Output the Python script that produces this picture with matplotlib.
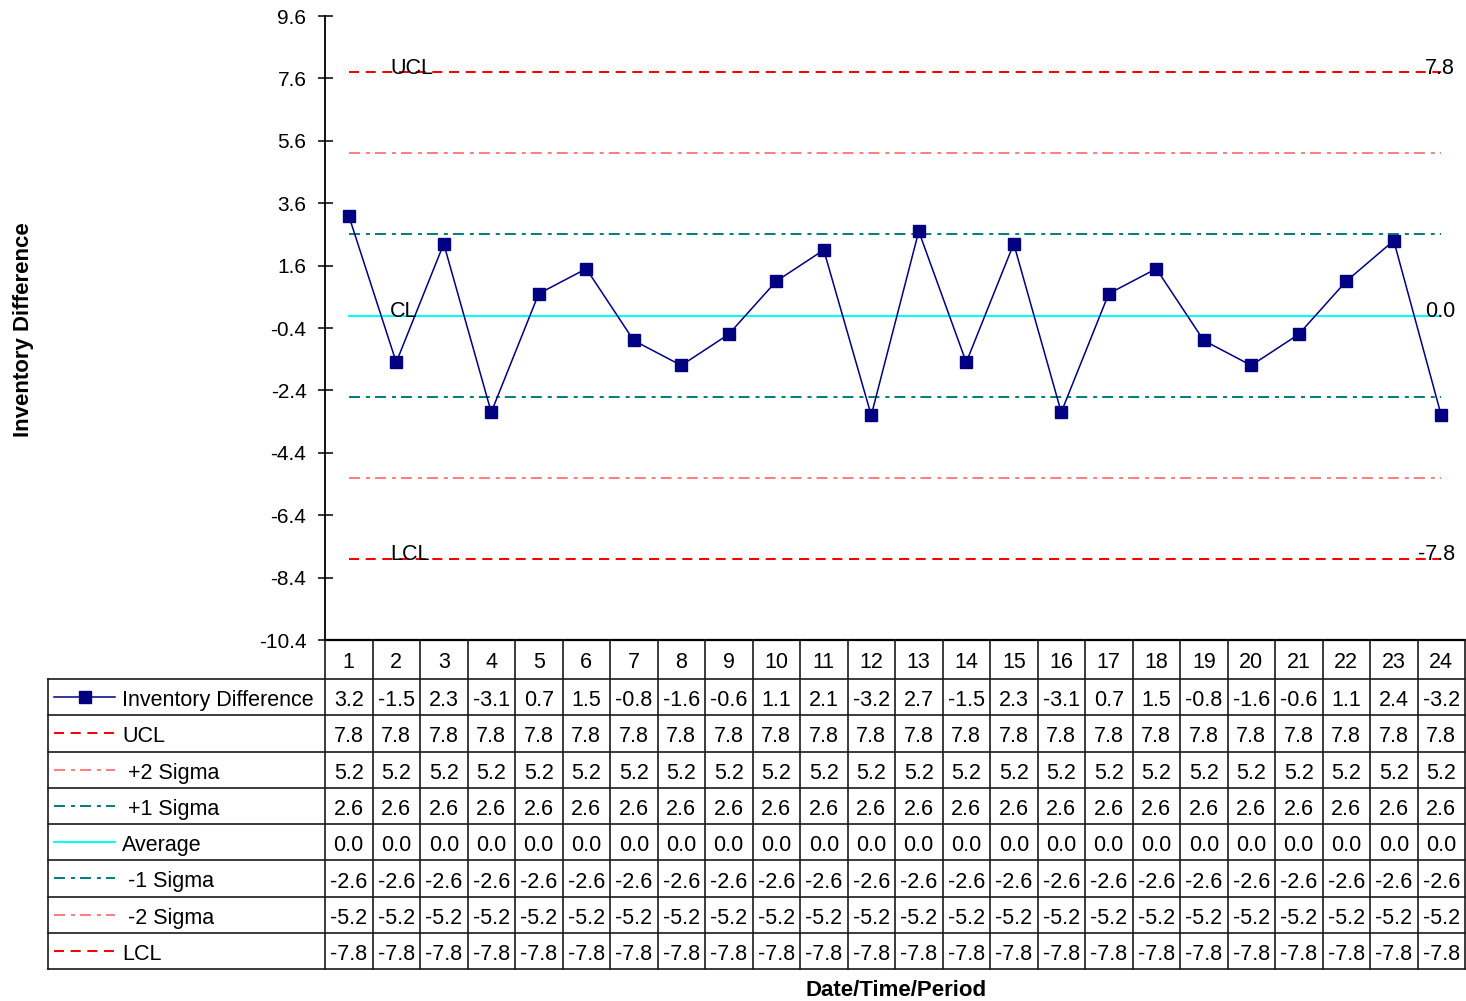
import matplotlib
matplotlib.use('Agg')
import matplotlib.pyplot as plt
import numpy as np

plt.rcParams['font.family'] = ['Liberation Sans', 'DejaVu Sans']
plt.rcParams['lines.scale_dashes'] = False

# ---------------- data ----------------
periods = list(range(1, 25))
inv_diff = [3.2, -1.5, 2.3, -3.1, 0.7, 1.5, -0.8, -1.6, -0.6, 1.1, 2.1, -3.2,
            2.7, -1.5, 2.3, -3.1, 0.7, 1.5, -0.8, -1.6, -0.6, 1.1, 2.4, -3.2]
ucl = 7.8
plus2 = 5.2
plus1 = 2.6
avg = 0.0
minus1 = -2.6
minus2 = -5.2
lcl = -7.8
y_ticks = [9.6, 7.6, 5.6, 3.6, 1.6, -0.4, -2.4, -4.4, -6.4, -8.4, -10.4]

row_names = ['Inventory Difference', 'UCL', ' +2 Sigma', ' +1 Sigma', 'Average',
             ' -1 Sigma', ' -2 Sigma', 'LCL']
row_values = [inv_diff, [ucl] * 24, [plus2] * 24, [plus1] * 24, [avg] * 24,
              [minus1] * 24, [minus2] * 24, [lcl] * 24]

# ---------------- styles ----------------
NAVY = '#000080'
RED = '#FF0000'
PINK = '#FF8080'
TEAL = '#008080'
CYAN = '#00FFFF'
dash = (0, (7.2, 4.8))
dashdot = (0, (7.9, 4.3, 2.9, 3.6))
row_styles = [
    dict(color=NAVY, ls='-', lw=1.1),
    dict(color=RED, ls=dash, lw=1.44),
    dict(color=PINK, ls=dashdot, lw=1.44),
    dict(color=TEAL, ls=dashdot, lw=1.44),
    dict(color=CYAN, ls='-', lw=1.44),
    dict(color=TEAL, ls=dashdot, lw=1.44),
    dict(color=PINK, ls=dashdot, lw=1.44),
    dict(color=RED, ls=dash, lw=1.44),
]

W, H = 1466, 1001


def px_rect(x0, y0, x1, y1):
    return [x0 / W, 1 - y1 / H, (x1 - x0) / W, (y1 - y0) / H]


fig = plt.figure(figsize=(W / 100, H / 100), dpi=100)

# ---------------- main chart ----------------
ax = fig.add_axes(px_rect(325, 16, 1465, 640))
ax.set_xlim(0.5, 24.5)
ax.set_ylim(-10.4, 9.6)

for vals, st in zip(row_values[1:], row_styles[1:]):
    ax.plot(periods, vals, **st)
ax.plot(periods, inv_diff, color=NAVY, lw=1.1, marker='s', markersize=8.5,
        markerfacecolor=NAVY, markeredgecolor=NAVY, zorder=5)

# control limit labels
for lbl, val in [('UCL', ucl), ('CL', avg), ('LCL', lcl)]:
    ax.text(1.87, val - 0.05, lbl, fontsize=15.5, ha='left', va='baseline')
    ax.text(24.29, val - 0.05, '%.1f' % val, fontsize=15.5, ha='right', va='baseline')

ax.set_yticks(y_ticks)
ax.set_yticklabels(['%.1f' % t for t in y_ticks], fontsize=15)
ax.tick_params(axis='y', direction='inout', length=10.8, width=1.1, pad=8)
ax.set_xticks([])
for s in ['top', 'right', 'bottom']:
    ax.spines[s].set_visible(False)
ax.spines['left'].set_linewidth(1.3)

# ---------------- data table ----------------
tab = fig.add_axes(px_rect(325, 640, 1465, 969))
h0 = 39 / 36.25
n_rows = len(row_names)
total = h0 + n_rows
tab.set_xlim(0.5, 24.5)
tab.set_ylim(total, 0)
tab.axis('off')
left = 0.5 - (325 - 48) / 47.5
grid_kw = dict(color='#1a1a1a', lw=1.2, clip_on=False)

tab.plot([0.5, 24.5], [0, 0], color='black', lw=1.6, clip_on=False)
for i in range(n_rows + 1):
    tab.plot([left, 24.5], [h0 + i, h0 + i], **grid_kw)
for k in range(25):
    tab.plot([0.5 + k, 0.5 + k], [0, total], **grid_kw)
tab.plot([left, left], [h0, total], **grid_kw)

for p in periods:
    tab.text(p, h0 / 2 + 0.08, str(p), fontsize=15.5, ha='center', va='center')

x_s0 = 0.5 - (325 - 54) / 47.5
x_s1 = 0.5 - (325 - 115) / 47.5
x_txt = 0.5 - (325 - 122) / 47.5
for i, (name, vals, st) in enumerate(zip(row_names, row_values, row_styles)):
    yc = h0 + i + 0.5
    tab.plot([x_s0, x_s1], [yc, yc], clip_on=False, **st)
    if i == 0:
        tab.plot([(x_s0 + x_s1) / 2], [yc], marker='s', markersize=8.5,
                 color=NAVY, clip_on=False)
    tab.text(x_txt, yc + 0.1, name, fontsize=15.5, ha='left', va='center')
    for p, v in zip(periods, vals):
        tab.text(p, yc + 0.1, '%.1f' % v, fontsize=15.5, ha='center', va='center')

# ---------------- axis titles ----------------
fig.text(896 / W, 1 - 990 / H, 'Date/Time/Period', fontsize=16,
         fontweight='bold', ha='center', va='center')
fig.text(23 / W, 1 - 330 / H, 'Inventory Difference', fontsize=16,
         fontweight='bold', ha='center', va='center', rotation=90)

plt.savefig('out.png', dpi=100)
plt.close()
